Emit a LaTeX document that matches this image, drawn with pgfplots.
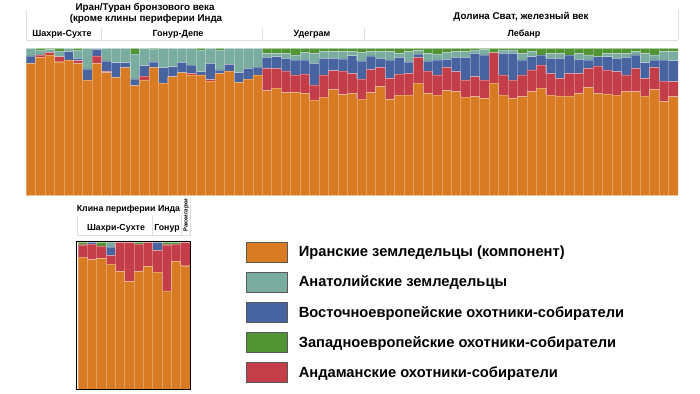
\documentclass[border=0pt]{standalone}
\usepackage{fontspec}
\setmainfont{Liberation Sans}
\usepackage{pgfplots}
\usepackage{pgfplotstable}
\pgfplotsset{compat=1.18}
\definecolor{cOr}{RGB}{216,123,34}
\definecolor{cTl}{RGB}{122,172,160}
\definecolor{cBl}{RGB}{72,100,160}
\definecolor{cGr}{RGB}{82,148,52}
\definecolor{cRd}{RGB}{196,62,74}
\definecolor{cLn}{RGB}{222,222,222}

\pgfplotstableread{
o r b t g
.898 0 .050 .052 0
.939 .016 0 .034 .011
.955 .018 0 .020 .007
.909 .034 0 .039 .018
.921 0 .056 .023 0
.898 .018 .016 .057 .011
.785 0 .075 .140 0
.898 .050 .045 .007 0
.835 .009 .070 .086 0
.803 0 .100 .097 0
.869 0 .034 .097 0
.747 0 .045 .169 .039
.785 .027 .070 .118 0
.871 0 .038 .086 .005
.763 0 .106 .131 0
.808 0 .068 .124 0
.835 0 .070 .095 0
.819 .011 .055 .115 0
.819 0 .023 .147 .011
.778 .009 .111 .102 0
.830 0 .023 .136 .011
.846 0 .045 .109 0
.769 0 .066 .165 0
.790 0 .074 .136 0
.819 0 .054 .127 0
.713 .151 .075 .027 .034
.729 .135 .079 .023 .034
.699 .147 .086 .034 .034
.701 .118 .102 .034 .045
.695 .131 .095 .050 .029
.649 .102 .147 .068 .034
.668 .151 .113 .045 .023
.722 .126 .084 .045 .023
.686 .160 .082 .049 .023
.695 .135 .120 .027 .023
.656 .134 .124 .057 .029
.699 .158 .091 .029 .023
.740 .131 .061 .045 .023
.654 .142 .125 .056 .023
.683 .141 .115 .027 .034
.683 .147 .079 .068 .023
.763 .176 .022 .023 .016
.695 .151 .068 .052 .034
.683 .136 .102 .040 .039
.713 .158 .054 .046 .029
.706 .136 .097 .038 .023
.668 .117 .154 .038 .023
.672 .136 .158 .023 .011
.661 .124 .170 .038 .007
.763 .208 0 0 .029
.683 .136 .147 .023 .011
.661 .124 .181 .023 .011
.672 .147 .102 .045 .034
.706 .147 .090 .034 .023
.729 .158 .068 0 .045
.683 .147 .102 .034 .034
.677 .119 .136 .034 .034
.677 .153 .125 0 .045
.695 .135 .095 .041 .034
.735 .129 .057 .034 .045
.695 .185 .063 0 .057
.690 .163 .090 .023 .034
.683 .159 .090 .034 .034
.706 .113 .120 .027 .034
.706 .158 .091 .022 .023
.677 .119 .107 .063 .034
.722 .149 .050 .034 .045
.638 .140 .143 .056 .023
.672 .102 .142 .061 .023
}\mainT

\pgfplotstableread{
o r b t g
.900 .084 0 0 .016
.882 .107 .011 0 0
.891 .086 0 0 .023
.852 .059 .057 .032 0
.802 .198 0 0 0
.733 .267 0 0 0
.802 .187 0 0 .011
.836 .164 0 0 0
.797 .148 .055 0 0
.670 .314 0 0 .016
.870 .119 0 0 .011
.841 .159 0 0 0
}\insetT

\begin{document}
\begin{tikzpicture}[x=1pt,y=1pt]
\useasboundingbox (0,0) rectangle (700,393);

% header lines (main)
\begin{scope}[draw=cLn, line width=0.8pt]
\draw (26,383) -- (26,352.5);
\draw (101.7,365) -- (101.7,352.5);
\draw (262,365) -- (262,352.5);
\draw (364,365) -- (364,352.5);
\draw (678,383) -- (678,352.5);
\draw (26,352.5) -- (678,352.5);
\end{scope}
\begin{scope}[font=\fontsize{9.8}{11}\selectfont\bfseries]
\node at (145,385) {Иран/Туран бронзового века};
\node at (146,374.5) {(кроме клины периферии Инда};
\node at (521,376) {Долина Сват, железный век};
\end{scope}
\begin{scope}[font=\fontsize{9}{10}\selectfont\bfseries]
\node at (62,359) {Шахри-Сухте};
\node at (178,359) {Гонур-Депе};
\node at (312,359) {Удеграм};
\node at (524,359) {Лебанр};
\end{scope}

\begin{axis}[at={(26pt,197.3pt)}, anchor=south west, scale only axis,
  width=652pt, height=147.4pt, xmin=0.5, xmax=69.5, ymin=0, ymax=1,
  hide axis, ybar stacked, bar width=1,
  every axis plot/.append style={draw=white, draw opacity=0.28, line width=0.4pt}]
\addplot[fill=cOr] table[x expr=\coordindex+1, y=o]{\mainT};
\addplot[fill=cRd] table[x expr=\coordindex+1, y=r]{\mainT};
\addplot[fill=cBl] table[x expr=\coordindex+1, y=b]{\mainT};
\addplot[fill=cTl] table[x expr=\coordindex+1, y=t]{\mainT};
\addplot[fill=cGr] table[x expr=\coordindex+1, y=g]{\mainT};
\end{axis}

% inset header
\begin{scope}[draw=cLn, line width=0.8pt]
\draw (77.3,176.5) -- (77.3,158);
\draw (152.7,176.5) -- (152.7,158);
\draw (181.7,176.5) -- (181.7,158);
\draw (190.7,196) -- (190.7,158);
\draw (77.3,158) -- (190.7,158);
\end{scope}
\begin{scope}[font=\fontsize{8.8}{10}\selectfont\bfseries]
\node at (128.5,184) {Клина периферии Инда};
\node at (116,164.5) {Шахри-Сухте};
\node at (167,164.5) {Гонур};
\node[rotate=90, font=\fontsize{5.8}{6}\selectfont\bfseries] at (186.3,178) {Ракхигархи};
\end{scope}

\begin{axis}[at={(78pt,4pt)}, anchor=south west, scale only axis,
  width=112pt, height=146.6pt, xmin=0.5, xmax=12.5, ymin=0, ymax=1,
  hide axis, ybar stacked, bar width=1,
  every axis plot/.append style={draw=white, draw opacity=0.28, line width=0.4pt}]
\addplot[fill=cOr] table[x expr=\coordindex+1, y=o]{\insetT};
\addplot[fill=cRd] table[x expr=\coordindex+1, y=r]{\insetT};
\addplot[fill=cBl] table[x expr=\coordindex+1, y=b]{\insetT};
\addplot[fill=cTl] table[x expr=\coordindex+1, y=t]{\insetT};
\addplot[fill=cGr] table[x expr=\coordindex+1, y=g]{\insetT};
\end{axis}
\draw[black, line width=1.3pt] (76.7,3.3) rectangle (190.7,151.3);

% legend
\begin{axis}[at={(246pt,151.3pt)}, anchor=north west, scale only axis,
  width=1pt, height=1pt, xmin=0, xmax=1, ymin=0, ymax=1, hide axis,
  legend style={at={(0,1)}, anchor=north west, draw=none, fill=none,
    inner sep=0pt, outer sep=0pt, row sep=9.3pt, column sep=11pt,
    font=\fontsize{14.7}{16}\selectfont\bfseries,
    nodes={inner sep=0pt, anchor=west}},
  legend cell align=left]
\addlegendimage{legend image code/.code={\draw[fill=cOr,draw=black!65,line width=0.8pt](0pt,-10pt) rectangle (41pt,10pt);}}
\addlegendentry{Иранские земледельцы (компонент)}
\addlegendimage{legend image code/.code={\draw[fill=cTl,draw=black!65,line width=0.8pt](0pt,-10pt) rectangle (41pt,10pt);}}
\addlegendentry{Анатолийские земледельцы}
\addlegendimage{legend image code/.code={\draw[fill=cBl,draw=black!65,line width=0.8pt](0pt,-10pt) rectangle (41pt,10pt);}}
\addlegendentry{Восточноевропейские охотники-собиратели}
\addlegendimage{legend image code/.code={\draw[fill=cGr,draw=black!65,line width=0.8pt](0pt,-10pt) rectangle (41pt,10pt);}}
\addlegendentry{Западноевропейские охотники-собиратели}
\addlegendimage{legend image code/.code={\draw[fill=cRd,draw=black!65,line width=0.8pt](0pt,-10pt) rectangle (41pt,10pt);}}
\addlegendentry{Андаманские охотники-собиратели}
\end{axis}
\end{tikzpicture}
\end{document}
